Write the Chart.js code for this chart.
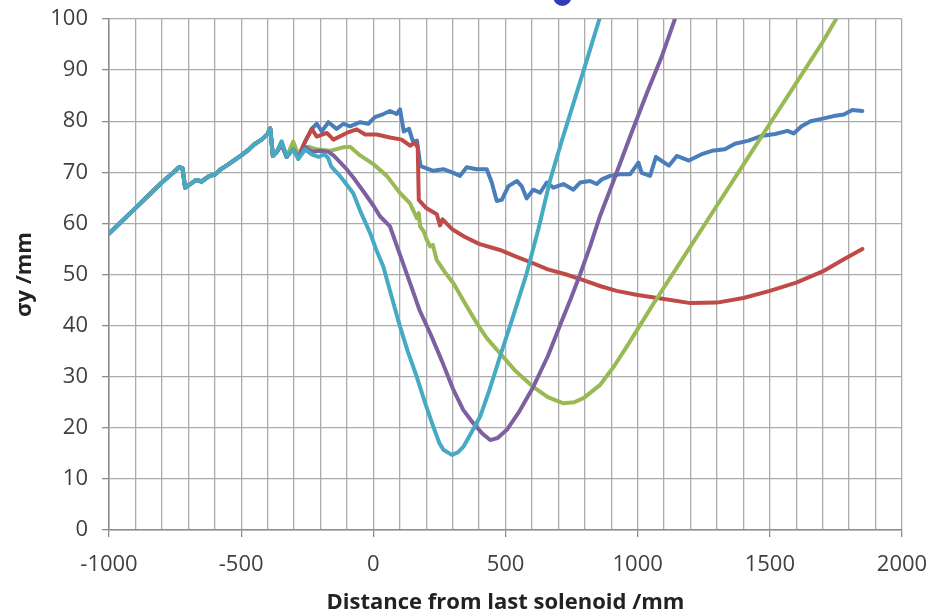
<!DOCTYPE html>
<html>
<head>
<meta charset="utf-8">
<script src="https://cdn.jsdelivr.net/npm/chart.js@4.4.1/dist/chart.umd.min.js"></script>
<style>
  html, body { margin: 0; padding: 0; background: #fff; }
  #wrap { width: 929px; height: 614px; }
</style>
</head>
<body>
<div id="wrap"><canvas id="chart-sigma" width="929" height="614"></canvas></div>
<script>
/* part shared by all five runs, before the beams split */
const sharedX = [-1000, -950, -900, -850, -800, -760, -735, -722, -712, -690, -670, -650, -620, -600, -580, -550, -520, -500, -470, -450, -420, -400, -390, -380];
const sharedY = [58, 60.5, 63, 65.5, 68, 69.8, 71, 70.8, 67, 67.8, 68.5, 68.2, 69.3, 69.5, 70.5, 71.5, 72.6, 73.3, 74.5, 75.5, 76.5, 77.5, 78.6, 73.2];

const blueX = [-365, -347, -328, -303, -284, -258, -233, -214, -195, -170, -139, -113, -88, -50, -19, 6, 38, 63, 88, 101, 115, 135, 150, 165, 178, 189, 227, 265, 303, 328, 353, 391, 429, 448, 467, 486, 511, 543, 561, 580, 605, 631, 656, 681, 719, 757, 782, 820, 845, 864, 896, 933, 971, 1003, 1015, 1047, 1069, 1118, 1148, 1194, 1240, 1281, 1330, 1368, 1420, 1466, 1520, 1567, 1590, 1620, 1654, 1700, 1741, 1780, 1812, 1850];
const blueY = [74, 76, 73, 75.5, 73, 76, 78.5, 79.5, 78, 79.8, 78.5, 79.5, 79, 79.8, 79.5, 80.8, 81.4, 82, 81.4, 82.3, 78, 78.5, 76, 76.2, 71.3, 71, 70.3, 70.6, 69.9, 69.3, 71, 70.6, 70.6, 68, 64.4, 64.6, 67.3, 68.3, 67.3, 64.9, 66.6, 66, 68, 67, 67.7, 66.6, 68, 68.3, 67.7, 68.6, 69.3, 69.6, 69.6, 71.9, 69.9, 69.3, 73, 71.3, 73.2, 72.3, 73.5, 74.2, 74.5, 75.6, 76.2, 77.1, 77.5, 78.1, 77.6, 79, 80, 80.5, 81, 81.3, 82.2, 82];

const redX = [-365, -347, -328, -303, -284, -258, -233, -214, -176, -151, -101, -63, -31, 13, 63, 107, 139, 158, 168, 172, 200, 240, 252, 262, 300, 345, 400, 479, 540, 600, 660, 730, 800, 860, 920, 1000, 1100, 1200, 1300, 1400, 1500, 1600, 1700, 1780, 1850];
const redY = [74, 75.5, 73, 75, 73, 76, 78.5, 77, 77.7, 76.4, 77.7, 78.4, 77.4, 77.4, 76.8, 76.4, 75.2, 75.8, 74.8, 64.6, 63, 61.8, 59.6, 60.8, 58.8, 57.4, 56, 54.8, 53.5, 52.3, 51, 50, 48.8, 47.7, 46.8, 46, 45.2, 44.4, 44.5, 45.4, 46.8, 48.4, 50.6, 53, 55];

const greenX = [-365, -347, -328, -303, -284, -277, -246, -214, -164, -113, -88, -50, 0, 51, 100, 139, 165, 172, 177, 190, 202, 215, 225, 240, 270, 303, 345, 391, 430, 479, 540, 605, 660, 719, 760, 795, 858, 910, 960, 1000, 1050, 1100, 1200, 1300, 1400, 1500, 1600, 1700, 1760];
const greenY = [74, 75.5, 73, 76, 73.5, 73.3, 75, 74.5, 74.2, 74.9, 75, 73.3, 71.6, 69.3, 66, 63.9, 61, 62, 59.4, 58.5, 56.8, 55.5, 55.8, 52.8, 50.5, 48.3, 44.5, 40.5, 37.5, 34.6, 31, 28, 26, 24.8, 25, 25.8, 28.4, 32, 36, 39.3, 43.5, 47.5, 55.5, 63.5, 71.5, 79.5, 87.5, 95.5, 100.8];

const purpleX = [-365, -347, -328, -303, -284, -258, -233, -200, -170, -151, -126, -101, -76, -38, 0, 25, 63, 100, 139, 175, 215, 260, 303, 340, 378, 410, 442, 470, 505, 550, 605, 660, 706, 745, 782, 820, 858, 910, 975, 1035, 1090, 1145];
const purpleY = [74, 75.5, 73, 74.5, 73, 75, 74, 74.2, 74, 73.3, 72, 70.6, 69, 66.3, 63.5, 61.4, 59.4, 54, 48.3, 43, 38.5, 33, 27.4, 23.5, 20.9, 19, 17.6, 18, 19.6, 23, 28, 34, 40, 45, 50, 55.5, 61.5, 68.5, 77.5, 85.5, 92.5, 100.6];

const cyanX = [-365, -347, -328, -303, -284, -258, -233, -208, -185, -171, -159, -130, -107, -76, -46, -12, 10, 38, 70, 101, 130, 164, 195, 227, 250, 265, 297, 320, 341, 370, 404, 440, 479, 530, 580, 625, 669, 712, 757, 805, 860];
const cyanY = [74, 76, 73, 74.5, 72.6, 74.5, 73.5, 73, 73.5, 72.8, 71.1, 69.5, 68, 65.9, 62, 58.1, 55, 51.5, 45.5, 39.8, 35, 30, 25, 20.2, 17, 15.7, 14.7, 15.2, 16.3, 19, 22.2, 27.5, 33.9, 42, 50.2, 59, 68.5, 76, 83.5, 91.5, 100.8];

const xTickStep = 100;
const xLabelStep = 500;
const yTickStep = 10;

const TICK_FONT = { family: 'Open Sans', size: 22 };
const TITLE_FONT = { family: 'Open Sans', size: 22, weight: 'bold', lineHeight: 1.0 };
const GRID = '#ababab';
const AXIS = '#8c8c8c';

function series(tailX, tailY) {
  const xs = sharedX.concat(tailX);
  const ys = sharedY.concat(tailY);
  return xs.map((x, i) => ({ x: x, y: ys[i] }));
}

function line(label, tailX, tailY, color, order) {
  return {
    label: label,
    data: series(tailX, tailY),
    showLine: true,
    borderColor: color,
    backgroundColor: color,
    borderWidth: 4,
    borderJoinStyle: 'round',
    borderCapStyle: 'round',
    pointRadius: 0,
    tension: 0,
    order: order,
  };
}

/* small blue blob cut by the top edge of the picture */
const topDot = {
  id: 'topDot',
  afterDraw(chart) {
    const c = chart.ctx;
    const px = chart.scales.x.getPixelForValue(715);
    c.save();
    c.fillStyle = '#2f3cbc';
    c.beginPath();
    c.arc(px, -3, 9, 0, Math.PI * 2);
    c.fill();
    c.restore();
  }
};

new Chart(document.getElementById('chart-sigma'), {
  type: 'scatter',
  data: {
    datasets: [
      line('blue',   blueX,   blueY,   '#4a7ebb', 5),
      line('red',    redX,    redY,    '#be4b48', 4),
      line('green',  greenX,  greenY,  '#98b954', 3),
      line('purple', purpleX, purpleY, '#7d60a0', 2),
      line('cyan',   cyanX,   cyanY,   '#46aac5', 1),
    ],
  },
  options: {
    responsive: false,
    animation: false,
    layout: { padding: { top: 19, right: 27, left: 0, bottom: 0 } },
    plugins: { legend: { display: false }, tooltip: { enabled: false } },
    scales: {
      x: {
        type: 'linear',
        min: -1000,
        max: 2000,
        afterFit: s => {
          s.height = 84;
          s.paddingLeft = 0; s.paddingRight = 0;
        },
        ticks: {
          stepSize: xTickStep,
          autoSkip: false,
          maxRotation: 0,
          padding: 15,
          color: '#404040',
          font: TICK_FONT,
          callback: v => (v % xLabelStep === 0 ? String(v) : ''),
        },
        grid: {
          color: GRID,
          lineWidth: 1.3,
          tickLength: 7,
          tickColor: c => (c.tick && c.tick.value % xLabelStep === 0 ? AXIS : 'rgba(0,0,0,0)'),
        },
        border: { color: AXIS, width: 1.5 },
        title: {
          display: true,
          text: 'Distance from last solenoid /mm',
          color: '#222',
          font: TITLE_FONT,
          padding: { top: 0, bottom: 0 },
        },
      },
      y: {
        min: 0,
        max: 100,
        afterFit: s => {
          s.width = 109;
          s.paddingTop = 0; s.paddingBottom = 0;
        },
        ticks: {
          stepSize: yTickStep,
          padding: 14,
          color: '#404040',
          font: TICK_FONT,
        },
        grid: { color: GRID, lineWidth: 1.3, tickLength: 7, tickColor: AXIS },
        border: { color: AXIS, width: 1.5 },
        title: {
          display: true,
          text: 'σy /mm',
          color: '#222',
          font: TITLE_FONT,
          padding: { top: 14, bottom: 0 },
        },
      },
    },
  },
  plugins: [topDot],
});
</script>
</body>
</html>
